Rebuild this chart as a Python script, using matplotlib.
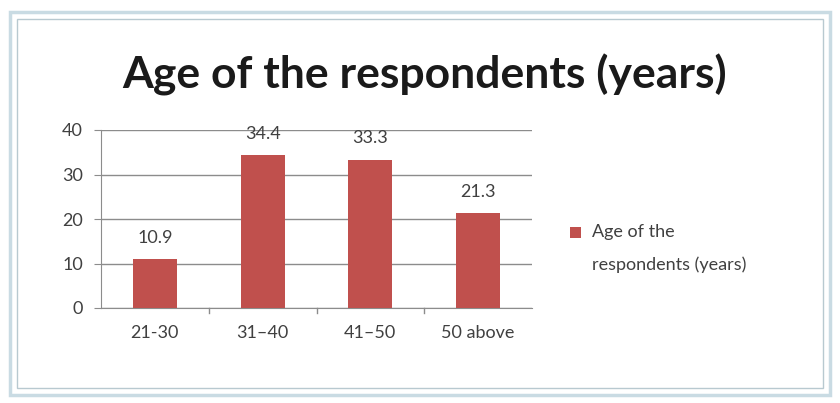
import matplotlib
matplotlib.use("Agg")
import matplotlib.pyplot as plt
from matplotlib.patches import Rectangle

categories = ["21-30", "31\u201340", "41\u201350", "50 above"]
values = [10.9, 34.4, 33.3, 21.3]
yticks = [0, 10, 20, 30, 40]
series_name = "Age of the\nrespondents (years)"
title = "Age of the respondents (years)"

plt.rcParams["font.family"] = ["Lato", "DejaVu Sans"]

W, H = 840, 403
fig = plt.figure(figsize=(W/100, H/100), dpi=100)
fig.patch.set_facecolor("white")

# outer frame
fig.patches.append(Rectangle((10/W, 1-395/H), 820/W, 383/H, transform=fig.transFigure,
                             fill=False, edgecolor="#c9dbe3", linewidth=2.5))
fig.patches.append(Rectangle((17/W, 1-388/H), 806/W, 369/H, transform=fig.transFigure,
                             fill=False, edgecolor="#b8c9d0", linewidth=1.0))

ax = fig.add_axes([101/W, 1-308/H, 431/W, 178/H])
x = list(range(len(categories)))
bars = ax.bar(x, values, width=0.41, color="#C0504D", zorder=3)
ax.set_xlim(-0.5, len(categories)-0.5)
ax.set_ylim(0, 40)
ax.set_yticks(yticks)
ax.set_xticks(x)
ax.set_xticklabels(categories)
ax.yaxis.grid(True, color="#8c8c8c", linewidth=1.0, zorder=0)
for s in ["top", "right"]:
    ax.spines[s].set_visible(False)
ax.spines["left"].set_color("#8c8c8c")
ax.spines["bottom"].set_color("#8c8c8c")
ax.tick_params(axis="y", length=5, color="#8c8c8c", labelsize=13, labelcolor="#404040", pad=8)
ax.tick_params(axis="x", length=0, labelsize=13, labelcolor="#404040", pad=12)
for b in [0.5, 1.5, 2.5]:
    ax.plot([b, b], [0, -1.2], color="#8c8c8c", lw=1, clip_on=False)
for xi, v in zip(x, values):
    ax.text(xi, v + 3.0, f"{v}", ha="center", va="bottom", fontsize=13, color="#404040")

fig.text(425/W, 1-75/H, title, ha="center", va="center", fontsize=32,
         fontweight="bold", color="#1a1a1a")

fig.patches.append(Rectangle((570/W, 1-238/H), 11/W, 11/H, transform=fig.transFigure,
                             facecolor="#C0504D", edgecolor="none"))
fig.text(592/W, 1-224/H, series_name, ha="left", va="top", fontsize=13,
         color="#404040", linespacing=2.2)

fig.savefig("out.png", dpi=100)
